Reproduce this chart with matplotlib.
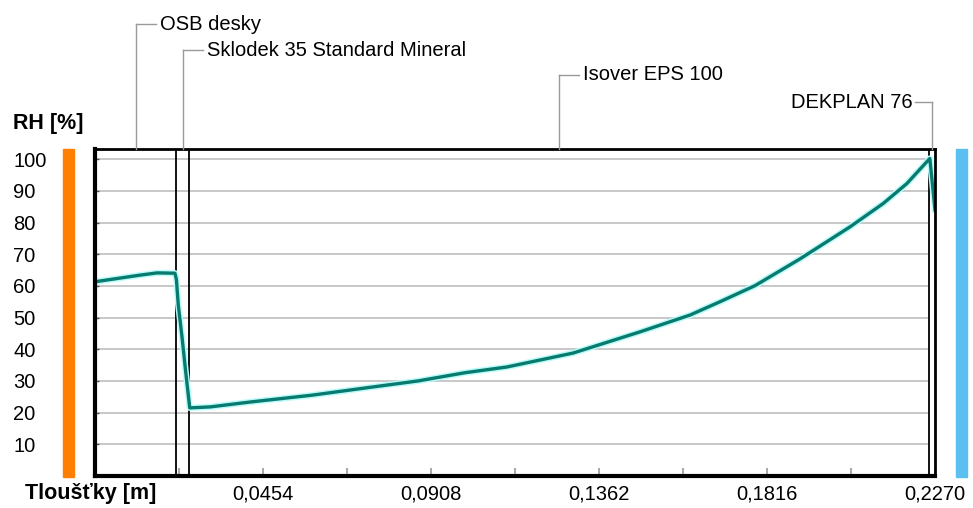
import matplotlib
matplotlib.use('Agg')
import matplotlib.pyplot as plt
from matplotlib.patches import Rectangle
from matplotlib.lines import Line2D

# layers of the wall (name, thickness in m)
layer_names = ['OSB desky', 'Sklodek 35 Standard Mineral', 'Isover EPS 100', 'DEKPLAN 76']
layer_thickness = [0.022, 0.0035, 0.2, 0.0015]

# relative humidity profile
thickness_m = [0.0, 0.0122, 0.0168, 0.0216, 0.0220, 0.0225, 0.0235, 0.0245, 0.0256,
               0.0311, 0.0423, 0.0586, 0.0738, 0.0873, 0.1000, 0.1113, 0.1292,
               0.1473, 0.1608, 0.1689, 0.1784, 0.1905, 0.2040, 0.2130, 0.2194,
               0.2256, 0.2270]
rh = [61.3, 63.4, 64.1, 64.0, 62.0, 54.0, 44.0, 33.0, 21.5,
      21.8, 23.4, 25.5, 27.9, 30.0, 32.6, 34.4, 38.8,
      45.5, 50.8, 55.0, 60.1, 68.5, 78.6, 86.0, 92.3,
      100.2, 84.0]

y_ticks = [10, 20, 30, 40, 50, 60, 70, 80, 90, 100]
x_major = [0.0454, 0.0908, 0.1362, 0.1816, 0.2270]
x_major_labels = ['0,0454', '0,0908', '0,1362', '0,1816', '0,2270']
x_minor = [0.0227, 0.0681, 0.1135, 0.1589, 0.2043]

W, H = 973, 508
plt.rcParams['font.family'] = ['Liberation Sans', 'DejaVu Sans']
fig = plt.figure(figsize=(W / 100, H / 100), dpi=100)


def fx(px):
    return px / W


def fy(py):
    return 1 - py / H


ax = fig.add_axes([fx(95), fy(476), fx(935) - fx(95), fy(149) - fy(476)])
ax.set_xlim(0, 0.227)
ax.set_ylim(0, 103.2)

# layer boundaries
bounds = []
acc = 0
for t in layer_thickness:
    acc += t
    bounds.append(acc)

ax.hlines(y_ticks, 0, bounds[-2], colors='#c4c4c4', lw=1.3, zorder=1)
for b in bounds[:-1]:
    ax.axvline(b, color='black', lw=1.3, zorder=3)

ax.plot(thickness_m, rh, color='#b8fbfb', lw=4.5, zorder=4, solid_joinstyle='round')
ax.plot(thickness_m, rh, color='#087a6e', lw=2.4, zorder=5, solid_joinstyle='round')

for side, w in [('left', 3), ('bottom', 3), ('top', 2), ('right', 2)]:
    ax.spines[side].set_linewidth(w)
    ax.spines[side].set_color('black')
    ax.spines[side].set_zorder(6)

ax.set_yticks(y_ticks)
ax.set_yticklabels([str(v) for v in y_ticks])
ax.tick_params(axis='y', direction='in', length=3, width=1, color='#555555',
               labelsize=14.5, pad=59)
for lab in ax.get_yticklabels():
    lab.set_horizontalalignment('left')

ax.set_xticks(x_major)
ax.set_xticklabels(x_major_labels)
ax.set_xticks(x_minor, minor=True)
ax.tick_params(axis='x', which='both', direction='in', length=6, width=1.2,
               color='#9a9a9a', labelsize=14.5, pad=6)

# axis titles
fig.text(fx(13), fy(124), 'RH [%]', fontsize=15.5, fontweight='bold', va='center', ha='left')
fig.text(fx(25), fy(493), 'Tloušťky [m]', fontsize=15.5, fontweight='bold', va='center', ha='left')

# interior / exterior bars
fig.patches.append(Rectangle((fx(63), fy(477)), fx(11), fy(149) - fy(477),
                             transform=fig.transFigure, color='#ff8000', zorder=2))
fig.patches.append(Rectangle((fx(956), fy(477)), fx(11), fy(149) - fy(477),
                             transform=fig.transFigure, color='#5cbff2', zorder=2))

# layer labels with leader lines
lead_col = '#9a9a9a'
starts = [0] + bounds[:-1]
label_y = [24, 50, 75, 102]
for i, name in enumerate(layer_names):
    xc = (starts[i] + bounds[i]) / 2
    px = 95 + xc / 0.227 * 840
    py = label_y[i]
    if i < 3:
        seg = [px, px + 20]
        fig.text(fx(px + 24), fy(py), name, fontsize=14.5, va='center', ha='left')
    else:
        seg = [px - 17, px]
        fig.text(fx(px - 20), fy(py), name, fontsize=14.5, va='center', ha='right')
    fig.add_artist(Line2D([fx(px), fx(px)], [fy(py), fy(149)], color=lead_col, lw=1))
    fig.add_artist(Line2D([fx(seg[0]), fx(seg[1])], [fy(py), fy(py)], color=lead_col, lw=1))

plt.savefig('out.png', dpi=100)
